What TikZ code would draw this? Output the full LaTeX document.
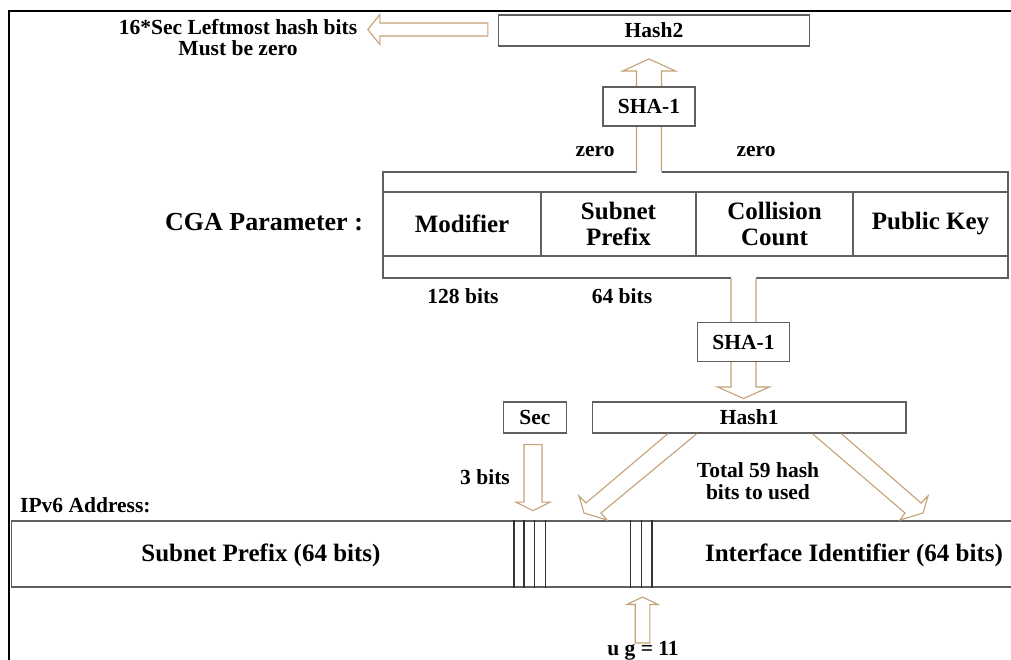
\documentclass[tikz,border=0pt]{standalone}
\usepackage{fontspec}
\setmainfont{Liberation Serif}
\usetikzlibrary{calc}

\definecolor{arrowtan}{RGB}{196,162,118}
\definecolor{boxgray}{RGB}{95,95,95}

\tikzset{
  lbl/.style={font=\fontsize{21.5}{21.5}\selectfont\bfseries, inner sep=0pt, align=center},
  biglbl/.style={font=\fontsize{25}{26}\selectfont\bfseries, inner sep=0pt, align=center},
  field/.style={draw=boxgray, line width=1.3pt, fill=white, inner sep=0pt, align=center},
  barrow/.style={draw=arrowtan, line width=1.1pt, line join=miter},
  bitline/.style={draw=black!80, line width=1.1pt},
}

% outline points of a hollow block arrow:
% #1 base, #2 tip, #3 shaft half width, #4 head half width, #5 head length
\newcommand\arrowgeom[5]{%
  \coordinate (ah) at ($(#2)!#5!(#1)$);
  \coordinate (ab) at ($(#1)!-2pt!(#2)$);
  \coordinate (al0) at ($(ab)!#3!90:(#2)$);
  \coordinate (al1) at ($(#1)!#3!90:(#2)$);
  \coordinate (al2) at ($(ah)!#3!90:(#2)$);
  \coordinate (al3) at ($(ah)!#4!90:(#2)$);
  \coordinate (ar3) at ($(ah)!#4!-90:(#2)$);
  \coordinate (ar2) at ($(ah)!#3!-90:(#2)$);
  \coordinate (ar1) at ($(#1)!#3!-90:(#2)$);
  \coordinate (ar0) at ($(ab)!#3!-90:(#2)$);
}
% closed outline
\newcommand\closedarrow[5]{\arrowgeom{#1}{#2}{#3}{#4}{#5}%
  \filldraw[barrow, fill=white] (al1) -- (al2) -- (al3) -- (#2) -- (ar3) -- (ar2) -- (ar1) -- cycle;}
% open at the base, hiding the box edge it leaves from
\newcommand\openarrow[5]{\arrowgeom{#1}{#2}{#3}{#4}{#5}%
  \fill[white] (al0) -- (al2) -- (al3) -- (#2) -- (ar3) -- (ar2) -- (ar0) -- cycle;
  \draw[barrow] (al1) -- (al2) -- (al3) -- (#2) -- (ar3) -- (ar2) -- (ar1);}

\begin{document}
\begin{tikzpicture}[x=1pt,y=-1pt]
\useasboundingbox (0,0) rectangle (1011,660);
\fill[white] (0,0) rectangle (1011,660);

% page frame
\draw[line width=2.2pt] (9,662) -- (9,11) -- (1013,11);

% Hash2 and the leftward note
\node[field, lbl, minimum width=311pt, minimum height=31pt] (hash2) at (654,30.5) {Hash2};
\node[lbl] (note) at (238,37.5) {16*Sec Leftmost hash bits\\Must be zero};
\coordinate (notebase) at ($(hash2.west)+(-10,-1)$);
\coordinate (notetip) at ($(hash2.west)+(-130,-1)$);
\closedarrow{notebase}{notetip}{6.5pt}{15pt}{12pt}

% CGA parameter block
\node[font=\fontsize{26}{26}\selectfont\bfseries, inner sep=0pt] (cgalabel) at (264,222) {CGA Parameter :};
\node[field, minimum width=625pt, minimum height=106pt] (cga) at (695.5,225) {};
\node[field, biglbl, minimum width=158pt, minimum height=64pt] (modifier) at (462,224) {Modifier};
\node[field, biglbl, minimum width=155pt, minimum height=64pt] (subnet) at (618.5,224) {Subnet\\Prefix};
\node[field, biglbl, minimum width=157pt, minimum height=64pt] (collision) at (774.5,224) {Collision\\Count};
\node[field, biglbl, minimum width=155pt, minimum height=64pt] (pubkey) at (930.5,224) {Public Key};

\node[lbl] (zeroL) at (595,152) {zero};
\node[lbl] (zeroR) at (756,152) {zero};
\node[lbl] (bits128) at (463,296) {128 bits};
\node[lbl] (bits64) at (622,296) {64 bits};

% CGA parameters -> SHA-1 -> Hash2
\coordinate (upaxis) at (649,106.5);
\coordinate (uptip) at (649,59);
\coordinate (upbase) at (upaxis |- cga.north);
\openarrow{upbase}{uptip}{12.5pt}{26.5pt}{12pt}
\node[field, lbl, minimum width=92pt, minimum height=39pt] (shaup) at (upaxis) {SHA-1};

% CGA parameters -> SHA-1 -> Hash1
\coordinate (loaxis) at (743.5,342);
\coordinate (lotip) at (743.5,398.5);
\coordinate (lobase) at (loaxis |- cga.south);
\openarrow{lobase}{lotip}{12.5pt}{26pt}{11.5pt}
\node[field, lbl, minimum width=92pt, minimum height=39pt] (shalo) at (loaxis) {SHA-1};

% Sec and Hash1
\node[field, lbl, minimum width=63pt, minimum height=31pt] (sec) at (535,417.5) {Sec};
\node[field, lbl, minimum width=313.5pt, minimum height=31pt] (hash1) at (749.25,417.5) {Hash1};

% IPv6 address
\node[lbl, anchor=west] (ipv6label) at (20,505) {IPv6 Address:};
\node[field, line width=1.6pt, biglbl, minimum width=1004pt, minimum height=66pt] (ipv6) at (513.5,554) {};
\node[biglbl] (prefix) at (261,555) {Subnet Prefix (64 bits)};
\node[biglbl] (iid) at (854,555) {Interface Identifier (64 bits)};
\foreach \x in {514,524,534.7,545.3,630.7,641.3,652}
  \draw[bitline] (\x,0 |- ipv6.north) -- (\x,0 |- ipv6.south);

% Sec -> 3 bits
\coordinate (secbase) at ($(sec.south)+(-2,11)$);
\coordinate (sectip) at ($(sec.south)+(-2,77)$);
\closedarrow{secbase}{sectip}{9pt}{17pt}{8.5pt}
\node[lbl, anchor=east] (bits3) at (510,477) {3 bits};

% Hash1 -> interface identifier (two slanted hollow arrows, open at Hash1)
\coordinate (diagLa) at ($(hash1.south west)+(76,0)$);
\coordinate (diagLb) at ($(hash1.south west)+(105,0)$);
\coordinate (diagLtip) at (607,520);
\draw[barrow] (diagLa) -- ($(diagLtip)+(-21,-17)$) -- ($(diagLtip)+(-28,-24)$)
  -- ($(diagLtip)+(-23,-7)$) -- (diagLtip) -- ($(diagLtip)+(-6,-7)$) -- (diagLb);
\coordinate (diagRa) at ($(hash1.south west)+(220.5,0)$);
\coordinate (diagRb) at ($(hash1.south west)+(249.5,0)$);
\coordinate (diagRtip) at (900,520);
\draw[barrow] (diagRa) -- ($(diagRtip)+(5,-7)$) -- (diagRtip)
  -- ($(diagRtip)+(23,-7)$) -- ($(diagRtip)+(28,-24)$) -- ($(diagRtip)+(21,-17)$) -- (diagRb);
\node[lbl] (total) at (758,481) {Total 59 hash\\bits to used};

% u and g bits
\coordinate (ugbase) at (642.5,643);
\coordinate (ugtip) at (642.5,597);
\closedarrow{ugbase}{ugtip}{7.3pt}{15.5pt}{7.5pt}
\node[lbl] (ug) at (643,651) {u g = 11};
\end{tikzpicture}
\end{document}
